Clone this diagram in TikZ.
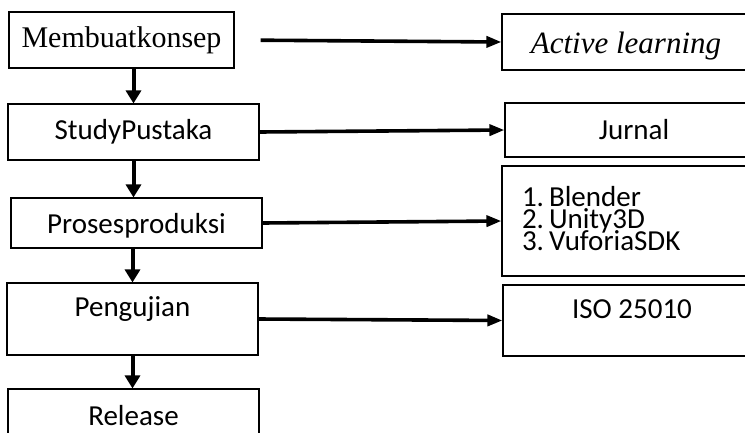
\documentclass[tikz,border=0pt]{standalone}
\usepackage{fontspec}
\setmainfont{Carlito}
\newfontfamily\serifface{Liberation Serif}
\usetikzlibrary{arrows.meta}
\protected\def\tightlines{\lineskiplimit=-30pt\relax}

\begin{document}
\begin{tikzpicture}
        [x=1pt,y=-1pt,every node/.style={font=\fontsize{29}{21}\selectfont}, box/.style={draw,shape=rectangle,line width=1.1pt,inner sep=0}, flow/.style={line width=4pt,-{Triangle[length=13pt,width=15pt]}}, link/.style={line width=3.6pt,-{Triangle[length=15pt,width=11pt]}}]

        \useasboundingbox (0,0) rectangle (745,432);
        \clip (0,0) rectangle (745,432);

        \node[box,minimum width=225pt,minimum height=56pt,font=\serifface\fontsize{30}{30}\selectfont] (mk) at (121.5,40) {Membuatkonsep};
        \node[box,minimum width=251pt,minimum height=56pt] (sp) at (133.5,132) {StudyPustaka};
        \node[box,minimum width=251pt,minimum height=50pt,text depth=0pt] (pr) at (136.5,223) {Prosesproduksi};
        \node[box,minimum width=251pt,minimum height=72pt,text height=20pt,text depth=25pt] (pg) at (132.5,319) {Pengujian};
        \node[box,minimum width=251pt,minimum height=54pt] (rl) at (133.5,416) {Release};

        \node[box,minimum width=248pt,minimum height=56pt,text height=22pt,text depth=0pt,font=\serifface\itshape\fontsize{31}{31}\selectfont] (al) at (626,42) {Active learning};
        \node[box,minimum width=258pt,minimum height=54pt] (jr) at (634,130) {Jurnal};
        \node[box,minimum height=110pt,inner xsep=20pt,text width=218pt,align=left,text height=20pt,text depth=50pt,font=\fontsize{29}{22}\selectfont\tightlines] (tl) at (631,221) {1.\hspace{5pt}Blender\\2.\hspace{5pt}Unity3D\\3.\hspace{5pt}VuforiaSDK};
        \node[box,minimum width=258pt,minimum height=71pt,text height=19pt,text depth=24pt] (iso) at (632,320.5) {ISO 25010};

        \draw[flow] (mk.south -| sp.north) -- (sp.north);
        \draw[flow] (sp.south) -- (sp.south |- pr.north);
        \draw[flow] (pr.south -| pg.north) -- (pg.north);
        \draw[flow] (pg.south) -- (pg.south |- rl.north);

        \draw[link,shorten <=26pt] (mk.east) -- (al.west);
        \draw[link] (sp.east) -- (jr.west);
        \draw[link] (pr.east) -- (tl.west);
        \draw[link] (pg.east) -- (iso.west);

      \end{tikzpicture}
\end{document}
